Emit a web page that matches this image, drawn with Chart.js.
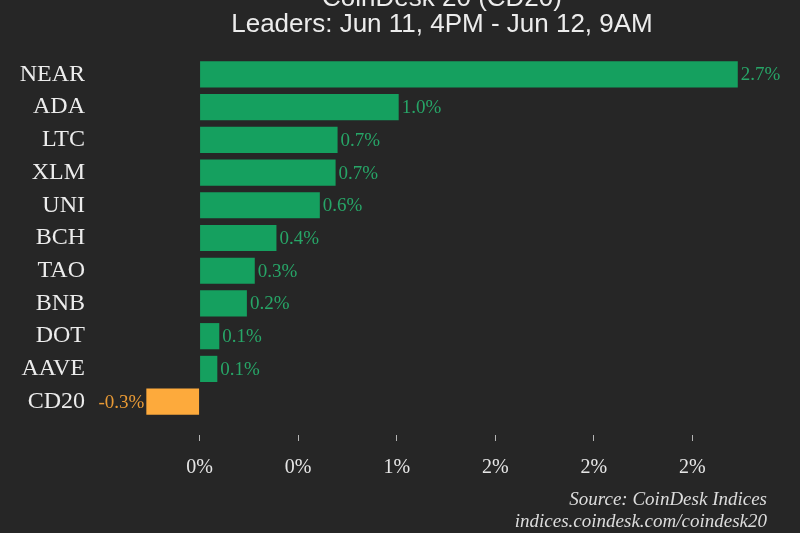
<!DOCTYPE html>
<html>
<head>
<meta charset="utf-8">
<script src="https://cdn.jsdelivr.net/npm/chart.js@4"></script>
<style>
  html, body { margin: 0; padding: 0; background: #262626; }
  #wrap { width: 800px; height: 533px; position: relative; }
</style>
</head>
<body>
<div id="wrap"><canvas id="leaders"></canvas></div>
<script>
const categories = ['NEAR', 'ADA', 'LTC', 'XLM', 'UNI', 'BCH', 'TAO', 'BNB', 'DOT', 'AAVE', 'CD20'];
const changes = [2.73, 1.01, 0.70, 0.69, 0.61, 0.39, 0.28, 0.24, 0.10, 0.09, -0.27];
const tickValues = [0, 0.5, 1, 1.5, 2, 2.5];
const tickLabels = ['0%', '0%', '1%', '2%', '2%', '2%'];
const titleLines = ['CoinDesk 20 (CD20)', 'Leaders: Jun 11, 4PM - Jun 12, 9AM'];
const sourceLines = ['Source: CoinDesk Indices', 'indices.coindesk.com/coindesk20'];

const GREEN = '#15a05f';
const ORANGE = '#fdaa3c';
const SERIF = '"Liberation Serif", "DejaVu Serif", serif';

// value labels next to each bar + title and source text
const annotate = {
  id: 'annotate',
  afterDatasetsDraw(chart) {
    const ctx = chart.ctx;
    const meta = chart.getDatasetMeta(0);
    ctx.save();
    ctx.font = '19px ' + SERIF;
    ctx.textBaseline = 'middle';
    meta.data.forEach((bar, i) => {
      const v = changes[i];
      const txt = v.toFixed(1) + '%';
      if (v >= 0) {
        ctx.fillStyle = '#27a567';
        ctx.textAlign = 'left';
        ctx.fillText(txt, bar.x + 3, bar.y + 1);
      } else {
        ctx.fillStyle = '#e99a35';
        ctx.textAlign = 'right';
        ctx.fillText(txt, bar.x - 2, bar.y + 1);
      }
    });
    ctx.restore();
  },
  afterDraw(chart) {
    const ctx = chart.ctx;
    ctx.save();
    ctx.fillStyle = '#ececec';
    ctx.font = '26px "Liberation Sans", Arial, sans-serif';
    ctx.textAlign = 'center';
    ctx.textBaseline = 'alphabetic';
    ctx.fillText(titleLines[0], 442, 6);
    ctx.fillText(titleLines[1], 442, 32);
    ctx.font = 'italic 19px ' + SERIF;
    ctx.textAlign = 'right';
    ctx.fillStyle = '#dcdcdc';
    ctx.fillText(sourceLines[0], 767, 505);
    ctx.fillText(sourceLines[1], 767, 527);
    ctx.restore();
  }
};

new Chart(document.getElementById('leaders'), {
  type: 'bar',
  data: {
    labels: categories,
    datasets: [{
      data: changes,
      backgroundColor: changes.map(v => v >= 0 ? GREEN : ORANGE),
      borderWidth: 0,
      barPercentage: 0.8,
      categoryPercentage: 1
    }]
  },
  options: {
    indexAxis: 'y',
    responsive: true,
    maintainAspectRatio: false,
    animation: false,
    layout: { padding: { top: 58, right: 9, left: 0, bottom: 38 } },
    scales: {
      x: {
        min: -0.5,
        max: 3.0,
        afterBuildTicks(scale) {
          scale.ticks = tickValues.map(v => ({ value: v }));
        },
        border: { display: false },
        grid: {
          drawOnChartArea: false,
          drawTicks: true,
          tickLength: 23,
          tickColor: '#b4b4b4',
          tickBorderDash: [0, 17, 6, 60]
        },
        ticks: {
          color: '#e6e6e6',
          font: { family: SERIF, size: 20 },
          padding: 15,
          callback(value, index) { return tickLabels[index]; }
        }
      },
      y: {
        afterFit(scale) { scale.width = 101; },
        border: { display: false },
        grid: { display: false },
        ticks: {
          color: '#ececec',
          font: { family: SERIF, size: 24 },
          padding: 8
        }
      }
    },
    plugins: {
      legend: { display: false },
      tooltip: { enabled: false }
    }
  },
  plugins: [annotate]
});
</script>
</body>
</html>
